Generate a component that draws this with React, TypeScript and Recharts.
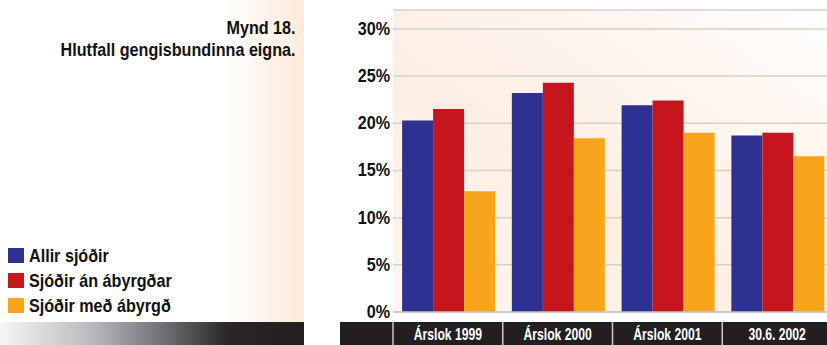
import React from "react"
import {
  BarChart,
  Bar,
  XAxis,
  YAxis,
  CartesianGrid,
  Legend
} from "recharts"

const categories = ["Árslok 1999", "Árslok 2000", "Árslok 2001", "30.6. 2002"]
const allirSjodir = [20.3, 23.2, 21.9, 18.7]
const anAbyrgdar = [21.5, 24.3, 22.4, 19.0]
const medAbyrgd = [12.8, 18.4, 19.0, 16.5]
const yTicks = [0, 5, 10, 15, 20, 25, 30]
const seriesNames = ["Allir sjóðir", "Sjóðir án ábyrgðar", "Sjóðir með ábyrgð"]
const seriesColors = ["#2e3192", "#c4161c", "#f8a51b"]

// no condensed face installed, so squeeze Liberation Sans horizontally
const FONT = '"Liberation Sans", Arial, sans-serif'
const SQUEEZE = 0.85

const CHART_W = 832
const CHART_H = 345
const MARGIN = { top: 10, right: 0, left: 340, bottom: 0 }
const YAXIS_W = 53
const PLOT_W = CHART_W - MARGIN.left - MARGIN.right - YAXIS_W
const BAND = PLOT_W / categories.length

const data = categories.map((c, i) => ({
  name: c,
  a: allirSjodir[i],
  b: anAbyrgdar[i],
  c: medAbyrgd[i]
}))

function CategoryTick(props: any) {
  const { x, y, payload } = props
  return (
    <g>
      <line
        x1={x - BAND / 2}
        x2={x - BAND / 2}
        y1={y + 10}
        y2={y + 33}
        stroke="#c9c9c9"
        strokeWidth={1.5}
      />
      <text
        transform={`translate(${x},${y + 28}) scale(0.76,1)`}
        textAnchor="middle"
        fill="#ffffff"
        fontSize={16}
        fontWeight="bold"
        fontFamily={FONT}
      >
        {payload.value}
      </text>
    </g>
  )
}

function PercentTick(props: any) {
  const { x, y, payload } = props
  return (
    <text
      transform={`translate(${x},${y + 6}) scale(${SQUEEZE},1)`}
      textAnchor="end"
      fill="#111"
      fontSize={19}
      fontWeight="bold"
      fontFamily={FONT}
    >
      {`${payload.value}%`}
    </text>
  )
}

function LegendBox() {
  return (
    <div style={{ fontFamily: FONT, fontWeight: "bold", fontSize: 19, color: "#111" }}>
      {seriesNames.map((n, i) => (
        <div key={n} style={{ display: "flex", alignItems: "center", height: 25 }}>
          <span
            style={{
              display: "inline-block",
              width: 16,
              height: 15,
              background: seriesColors[i],
              marginRight: 5,
              flexShrink: 0
            }}
          />
          <span
            style={{
              display: "inline-block",
              whiteSpace: "nowrap",
              transform: `scaleX(${SQUEEZE})`,
              transformOrigin: "left center"
            }}
          >
            {n}
          </span>
        </div>
      ))}
    </div>
  )
}

export default function App() {
  return (
    <div
      style={{
        position: "absolute",
        left: 0,
        top: 0,
        width: 827,
        height: 345,
        overflow: "hidden",
        background: "#ffffff"
      }}
    >
      {/* left panel tint */}
      <div
        style={{
          position: "absolute",
          left: 0,
          top: 0,
          width: 304,
          height: 322,
          background:
            "linear-gradient(to right, #ffffff 0%, #ffffff 74%, #fdf1e7 90%, #fcebdc 100%)"
        }}
      />
      {/* bottom bars */}
      <div
        style={{
          position: "absolute",
          left: 0,
          top: 322,
          width: 304,
          height: 23,
          background:
            "linear-gradient(to right, #f6f6f6 0%, #b9babd 30%, #6b6c6f 55%, #2a2627 75%, #231f20 100%)"
        }}
      />
      <div
        style={{
          position: "absolute",
          left: 340,
          top: 322,
          width: 487,
          height: 23,
          background: "#231f20"
        }}
      />
      {/* title */}
      <div
        style={{
          position: "absolute",
          right: 827 - 296,
          top: 17,
          textAlign: "right",
          fontFamily: FONT,
          fontWeight: "bold",
          fontSize: 19,
          lineHeight: "22px",
          color: "#111",
          whiteSpace: "nowrap",
          transform: `scaleX(${SQUEEZE})`,
          transformOrigin: "right center"
        }}
      >
        <div>Mynd 18.</div>
        <div>Hlutfall gengisbundinna eigna.</div>
      </div>

      <div style={{ position: "absolute", left: 0, top: 0 }}>
        <BarChart
          width={CHART_W}
          height={CHART_H}
          data={data}
          margin={MARGIN}
          barCategoryGap="8.3%"
          barGap={0}
        >
          <defs>
            <linearGradient id="plotBg" x1="0" y1="1" x2="1" y2="0">
              <stop offset="0%" stopColor="#fef7f0" />
              <stop offset="40%" stopColor="#fdeee3" />
              <stop offset="80%" stopColor="#fef8f3" />
              <stop offset="100%" stopColor="#ffffff" />
            </linearGradient>
          </defs>
          <CartesianGrid
            vertical={false}
            fill="url(#plotBg)"
            stroke="#d6d0c6"
            strokeWidth={1.5}
          />
          <XAxis
            dataKey="name"
            height={CHART_H - 312}
            tickSize={0}
            tickMargin={0}
            axisLine={{ stroke: "#cbc5bb", strokeWidth: 1.5 }}
            tickLine={false}
            tick={<CategoryTick />}
            interval={0}
          />
          <YAxis
            width={YAXIS_W}
            domain={[0, 32]}
            ticks={yTicks}
            axisLine={false}
            tickLine={false}
            tickSize={0}
            tickMargin={3}
            tick={<PercentTick />}
          />
          <Legend
            layout="vertical"
            align="center"
            verticalAlign="middle"
            wrapperStyle={{ left: 8, top: 243, width: 300 }}
            content={<LegendBox />}
          />
          <Bar dataKey="a" name={seriesNames[0]} fill={seriesColors[0]} isAnimationActive={false} />
          <Bar dataKey="b" name={seriesNames[1]} fill={seriesColors[1]} isAnimationActive={false} />
          <Bar dataKey="c" name={seriesNames[2]} fill={seriesColors[2]} isAnimationActive={false} />
        </BarChart>
      </div>
    </div>
  )
}
